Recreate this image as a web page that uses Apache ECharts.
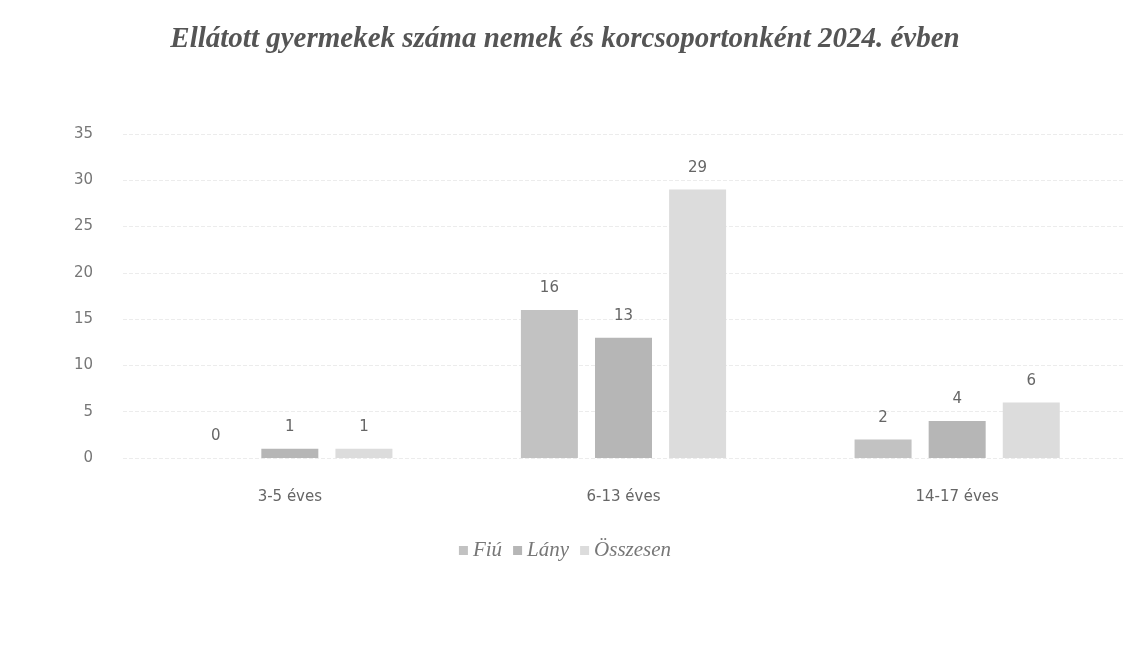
<!DOCTYPE html>
<html>
<head>
<meta charset="utf-8">
<script src="https://cdn.jsdelivr.net/npm/echarts@6/dist/echarts.min.js"></script>
<style>
  html, body { margin: 0; padding: 0; background: #fff; }
  #chart { width: 1130px; height: 650px; }
</style>
</head>
<body>
<div id="chart"></div>
<script>
// korcsoportok
var categories = ["3-5 éves", "6-13 éves", "14-17 éves"];
var fiu = [0, 16, 2];
var lany = [1, 13, 4];
var osszesen = [1, 29, 6];
var yTicks = [0, 5, 10, 15, 20, 25, 30, 35];

var chart = echarts.init(document.getElementById("chart"));

var labelStyle = {
  show: true,
  position: "top",
  distance: 14,
  color: "#666",
  fontSize: 15,
  fontFamily: "DejaVu Sans"
};

chart.setOption({
  animation: false,
  title: {
    text: "Ellátott gyermekek száma nemek és korcsoportonként 2024. évben",
    left: "center",
    top: 20,
    textStyle: {
      fontFamily: "Liberation Serif",
      fontStyle: "italic",
      fontWeight: "bold",
      fontSize: 29,
      color: "#555"
    }
  },
  legend: {
    data: ["Fiú", "Lány", "Összesen"],
    bottom: 84,
    left: "center",
    itemWidth: 9,
    itemHeight: 9,
    itemGap: 11,
    icon: "rect",
    textStyle: {
      fontFamily: "Liberation Serif",
      fontStyle: "italic",
      fontSize: 21,
      color: "#777"
    }
  },
  grid: {
    left: 123,
    right: 6,
    top: 134,
    bottom: 192
  },
  xAxis: {
    type: "category",
    data: categories,
    axisTick: { show: false },
    axisLine: { show: false },
    axisLabel: {
      color: "#666",
      fontSize: 15,
      fontFamily: "DejaVu Sans",
      margin: 32
    }
  },
  yAxis: {
    type: "value",
    min: yTicks[0],
    max: yTicks[yTicks.length - 1],
    interval: 5,
    axisLine: { show: false },
    axisTick: { show: false },
    axisLabel: {
      color: "#777",
      fontSize: 15,
      fontFamily: "DejaVu Sans",
      margin: 30
    },
    splitLine: {
      lineStyle: { color: "#ececec", type: "dashed" }
    }
  },
  series: [
    {
      name: "Fiú",
      type: "bar",
      data: fiu,
      barWidth: 57,
      barGap: "30%",
      itemStyle: { color: "#c2c2c2" },
      label: labelStyle
    },
    {
      name: "Lány",
      type: "bar",
      data: lany,
      barWidth: 57,
      barGap: "30%",
      itemStyle: { color: "#b6b6b6" },
      label: labelStyle
    },
    {
      name: "Összesen",
      type: "bar",
      data: osszesen,
      barWidth: 57,
      barGap: "30%",
      itemStyle: { color: "#dcdcdc" },
      label: labelStyle
    }
  ]
});
</script>
</body>
</html>
